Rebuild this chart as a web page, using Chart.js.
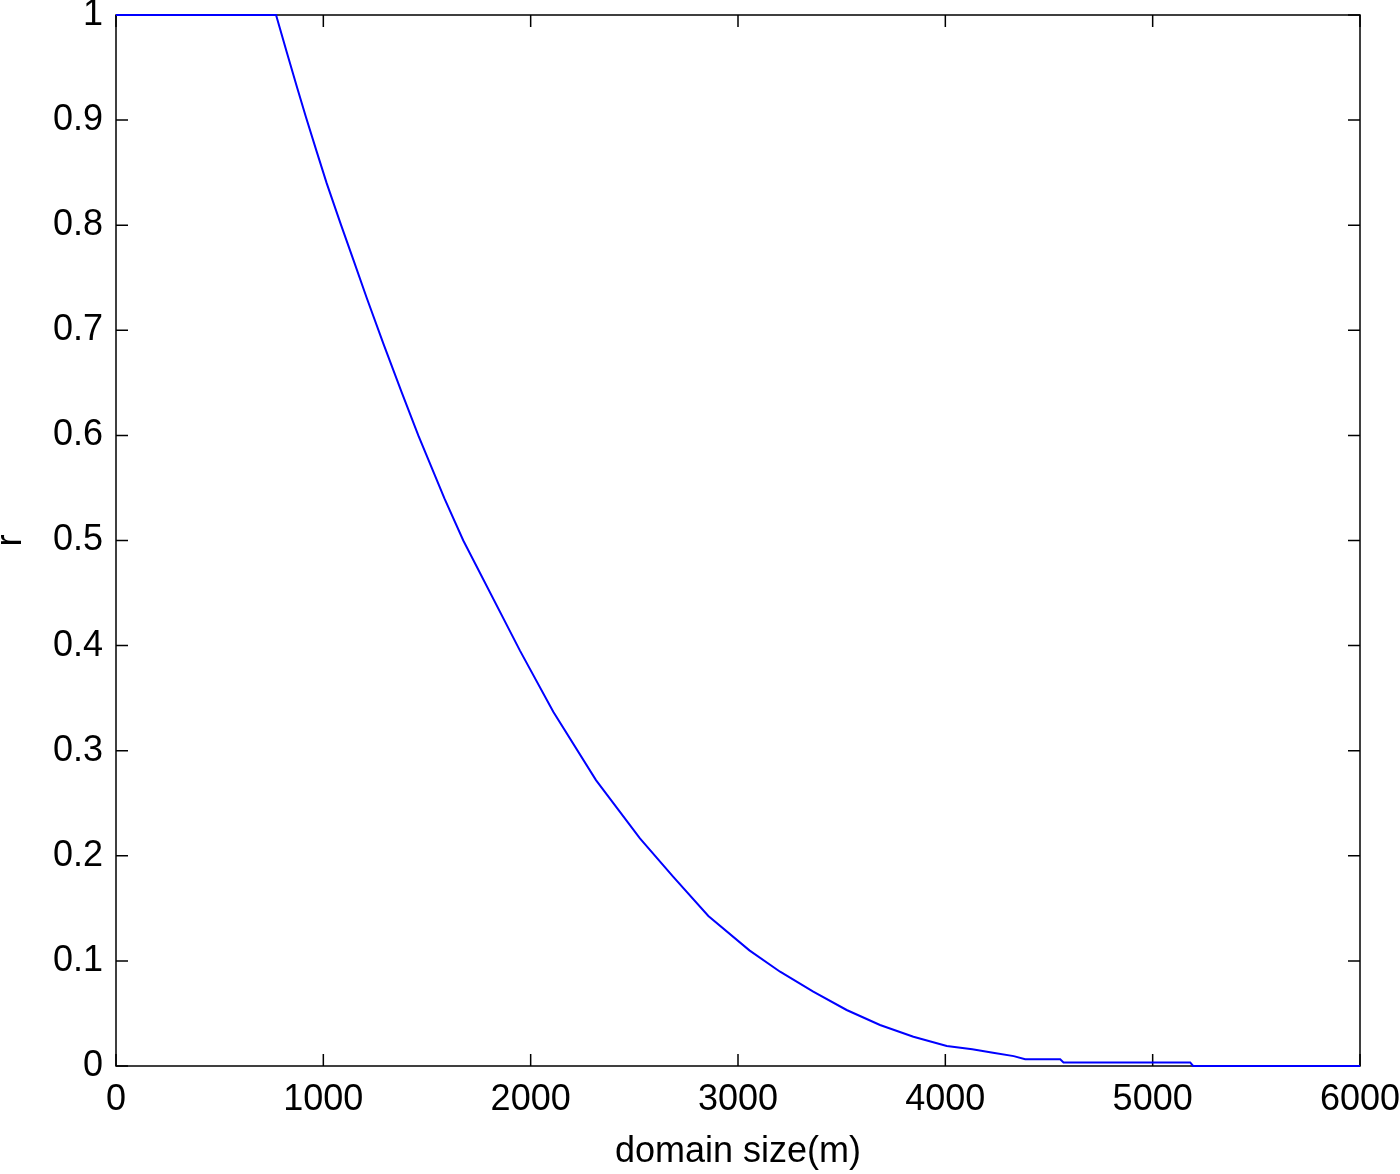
<!DOCTYPE html>
<html>
<head>
<meta charset="utf-8">
<script src="https://cdn.jsdelivr.net/npm/chart.js@4.4.0/dist/chart.umd.min.js"></script>
<style>
    html, body { margin: 0; padding: 0; background: #fff; }
    #wrap { width: 1400px; height: 1174px; }
</style>
</head>
<body>
<div id="wrap"><canvas id="rChart" width="1400" height="1174"></canvas></div>
<script>
// values (domain size in m, r)
const domainSize = [0, 772, 823, 872, 916, 968, 1016, 1084, 1145, 1209, 1290, 1378, 1458, 1584, 1675, 1949, 2109,
    2315, 2527, 2688, 2857, 3055, 3203, 3363, 3524, 3685, 3846, 4007, 4130, 4230, 4330, 4385, 4554, 4570,
    5181, 5195, 6000];
const rValues = [1, 1, 0.965, 0.932, 0.903, 0.87, 0.84, 0.801, 0.767, 0.731, 0.687, 0.641, 0.6, 0.54, 0.5, 0.395, 0.337,
    0.272, 0.2166, 0.18, 0.1427, 0.11, 0.0897, 0.0707, 0.0533, 0.039, 0.0279, 0.019, 0.016, 0.0127, 0.0094, 0.0064, 0.0064, 0.0034,
    0.0034, 0, 0];

const xTicks = [0, 1000, 2000, 3000, 4000, 5000, 6000];
const yTicks = [0, 0.1, 0.2, 0.3, 0.4, 0.5, 0.6, 0.7, 0.8, 0.9, 1];

const points = domainSize.map((x, i) => ({ x, y: rValues[i] }));
const font = { family: "'Liberation Sans', Arial, Helvetica, sans-serif", size: 36 };

// MATLAB style box with inward ticks on all sides, drawn under the line
const boxPlugin = {
    id: "box",
    beforeDatasetsDraw(chart) {
        const { ctx, chartArea: a, scales } = chart;
        const len = 12;
        ctx.save();
        ctx.strokeStyle = "#000";
        ctx.lineWidth = 1.5;
        ctx.strokeRect(a.left, a.top, a.right - a.left, a.bottom - a.top);
        ctx.beginPath();
        xTicks.forEach(v => {
            const px = scales.x.getPixelForValue(v);
            ctx.moveTo(px, a.bottom); ctx.lineTo(px, a.bottom - len);
            ctx.moveTo(px, a.top); ctx.lineTo(px, a.top + len);
        });
        yTicks.forEach(v => {
            const py = scales.y.getPixelForValue(v);
            ctx.moveTo(a.left, py); ctx.lineTo(a.left + len, py);
            ctx.moveTo(a.right, py); ctx.lineTo(a.right - len, py);
        });
        ctx.stroke();
        ctx.restore();
    }
};

new Chart(document.getElementById("rChart"), {
    type: "line",
    data: {
        datasets: [{
            data: points,
            borderColor: "#0000ff",
            borderWidth: 2,
            pointRadius: 0,
            tension: 0,
            fill: false,
            clip: 4
        }]
    },
    options: {
        responsive: false,
        animation: false,
        layout: { padding: { top: 15, right: 40, left: 0, bottom: 0 } },
        plugins: {
            legend: { display: false },
            tooltip: { enabled: false }
        },
        scales: {
            x: {
                type: "linear",
                min: 0,
                max: 6000,
                grid: { display: false, drawTicks: false },
                border: { display: false },
                afterBuildTicks: s => { s.ticks = xTicks.map(v => ({ value: v })); },
                afterFit: s => {
                    s.height = 108;
                    s.paddingLeft = 0;
                    s.paddingRight = 0;
                },
                ticks: {
                    color: "#000",
                    font,
                    padding: 12,
                    maxRotation: 0,
                    callback: v => String(v)
                },
                title: {
                    display: true,
                    text: "domain size(m)",
                    color: "#000",
                    font,
                    padding: 0
                }
            },
            y: {
                min: 0,
                max: 1,
                grid: { display: false, drawTicks: false },
                border: { display: false },
                afterBuildTicks: s => { s.ticks = yTicks.map(v => ({ value: v })); },
                afterFit: s => {
                    s.width = 116;
                    s.paddingTop = 0;
                    s.paddingBottom = 0;
                },
                ticks: {
                    color: "#000",
                    font,
                    padding: 13,
                    callback: v => String(Math.round(v * 10) / 10)
                },
                title: {
                    display: true,
                    text: "r",
                    color: "#000",
                    font: { ...font, lineHeight: 0.6 },
                    padding: 0
                }
            }
        }
    },
    plugins: [boxPlugin]
});
</script>
</body>
</html>
